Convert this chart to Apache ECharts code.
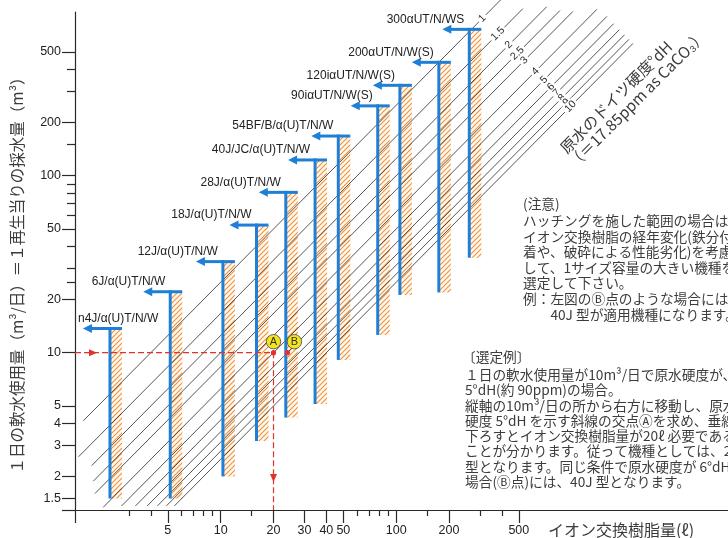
<!DOCTYPE html>
<html><head><meta charset="utf-8">
<script src="https://cdn.jsdelivr.net/npm/echarts@6/dist/echarts.min.js"></script>
<style>html,body{margin:0;padding:0;background:#fff}#c{width:728px;height:538px}</style>
</head><body><div id="c"></div>
<script>
// ---------- data ----------
const models = ['n4J/α(U)T/N/W','6J/α(U)T/N/W','12J/α(U)T/N/W','18J/α(U)T/N/W','28J/α(U)T/N/W',
  '40J/JC/α(U)T/N/W','54BF/B/α(U)T/N/W','90iαUT/N/W(S)','120iαUT/N/W(S)','200αUT/N/W(S)','300αUT/N/WS'];
const resinVolume = [2.34, 5.16, 10.3, 16.0, 23.5, 34.5, 46.8, 78.5, 105, 175, 261];   // ℓ
const flowMin = [1.5, 1.5, 2.0, 3.17, 4.3, 5.13, 9.1, 12.6, 21.2, 21.9, 34.4];          // m3/day
const flowMax = [13.7, 22.1, 32.7, 52.6, 80.5, 122.7, 167.5, 248, 324, 437, 671];       // m3/day

const hardness = [1, 1.5, 2, 2.5, 3, 4, 5, 6, 7, 8, 9, 10];            // °dH
const hardnessLabels = ['1','1.5','2','2.5','3','4','5','6','7','8','9','10'];
const lineStartResin = [1.65, 1.55, 1.84, 1.88, 1.92, 2.14, 2.72, 3.27, 3.81, 4.36, 4.91, 5.45];
const lineEndResin = [399, 527, 721, 857, 1016, 1393, 1588, 1734, 1871, 2000, 2121, 2235];

// selection example: 10 m3/day at 5 °dH needs 20 ℓ (point A); at 6 °dH -> point B
const exampleFlow = 10;
const exampleHardness = [5, 6];
const exampleResin = [20, 24];
const exampleNames = ['A', 'B'];
const flowCoef = exampleFlow * exampleHardness[0] / exampleResin[0];

const xMajorTicks = [5, 10, 20, 30, 40, 50, 100, 200, 500];
const xMinorTicks = [3, 4, 6, 7, 8, 9, 15, 60, 70, 80, 90, 150, 300, 400];
const yMajorTicks = [1.5, 2, 3, 4, 5, 10, 20, 50, 100, 200, 500];
const yMinorTicks = [25, 30, 40, 60, 70, 80, 90, 150, 300, 400];
const xRange = [1.479, 7776];
const yRange = [1.292, 841];

// ---------- styles ----------
const BLUE = '#1f7fd6', RED = '#e2332b', INK = '#2a2a2a', TXT = '#3c3c3c';
const LATIN = '"Liberation Sans", Arial, sans-serif';
const CJK = '"Noto Sans CJK JP", sans-serif';

function makeHatch() {
  const n = 5;
  const c = document.createElement('canvas'); c.width = n; c.height = n;
  const g = c.getContext('2d');
  g.fillStyle = '#fffaf0'; g.fillRect(0, 0, n, n);
  g.strokeStyle = '#f0923f'; g.lineWidth = 1.15;
  g.beginPath();
  g.moveTo(0, n); g.lineTo(n, 0);
  g.moveTo(-1, 1); g.lineTo(1, -1);
  g.moveTo(n - 1, n + 1); g.lineTo(n + 1, n - 1);
  g.stroke();
  return c;
}
const hatch = makeHatch();
const meas = document.createElement('canvas').getContext('2d');
meas.font = '12px ' + LATIN;

const chart = echarts.init(document.getElementById('c'));

function txt(x, y, s, size, extra) {
  return Object.assign({ type: 'text', x: x, y: y, silent: true,
    style: Object.assign({ text: s, fill: TXT, fontSize: size, fontFamily: CJK,
      align: 'left', verticalAlign: 'middle' }, (extra && extra.style) || {}) },
    extra ? { rotation: extra.rotation || 0 } : {});
}

const note1 = ['ハッチングを施した範囲の場合は、','イオン交換樹脂の経年変化(鉄分付','着や、破砕による性能劣化)を考慮',
  'して、1サイズ容量の大きい機種を','選定して下さい。','例：左図のⒷ点のような場合には','　　40J 型が適用機種になります。'];
const note2 = ['１日の軟水使用量が10m³/日で原水硬度が、','5°dH(約 90ppm)の場合。','縦軸の10m³/日の所から右方に移動し、原水',
  '硬度 5°dH を示す斜線の交点Ⓐを求め、垂線を','下ろすとイオン交換樹脂量が20ℓ 必要である','ことが分かります。従って機種としては、28J',
  '型となります。同じ条件で原水硬度が 6°dH の','場合(Ⓑ点)には、40J 型となります。'];

const graphics = [];
graphics.push(txt(17, 271.5, '１日の軟水使用量（m³/日）＝１再生当りの採水量（m³）', 15.5,
  { rotation: Math.PI / 2, style: { align: 'center' } }));
graphics.push(txt(621, 530, 'イオン交換樹脂量(ℓ)', 16, { style: { align: 'center' } }));
graphics.push(txt(616, 97, '原水のドイツ硬度°dH', 15.5, { rotation: Math.PI / 4, style: { align: 'center' } }));
graphics.push(txt(637, 99, '（＝17.85ppm as CaCO₃）', 15.5, { rotation: Math.PI / 4, style: { align: 'center' } }));
graphics.push(txt(523, 203.3, '(注意)', 13.7));
note1.forEach((s, i) => graphics.push(txt(523, 220.7 + i * 15.6, s, 13.7)));
graphics.push(txt(462, 356.7, '〔選定例〕', 13.7));
note2.forEach((s, i) => graphics.push(txt(465, 375 + i * 15.25, s, 13.7)));

const axisLineStyle = { color: INK, width: 1.2 };
const labelStyle = { color: '#222', fontSize: 12.5, fontFamily: LATIN, formatter: v => String(+(+v).toPrecision(6)) };

const option = {
  animation: false,
  backgroundColor: '#fff',
  grid: { left: 75, top: 12, right: 0, bottom: 28, containLabel: false },
  xAxis: [
    { type: 'log', position: 'bottom', min: xRange[0], max: xRange[1],
      axisLine: { show: true, lineStyle: axisLineStyle },
      axisTick: { show: true, length: 13, lineStyle: axisLineStyle, customValues: [xRange[0] * 1.0005].concat(xMajorTicks) },
      axisLabel: Object.assign({ customValues: xMajorTicks, margin: 14 }, labelStyle),
      splitLine: { show: false }, minorTick: { show: false } },
    { type: 'log', position: 'bottom', min: xRange[0], max: xRange[1],
      axisLine: { show: false },
      axisTick: { show: true, length: 6, lineStyle: axisLineStyle, customValues: xMinorTicks },
      axisLabel: { show: false }, splitLine: { show: false } }
  ],
  yAxis: [
    { type: 'log', position: 'left', min: yRange[0], max: yRange[1],
      axisLine: { show: true, lineStyle: axisLineStyle },
      axisTick: { show: true, length: 13, lineStyle: axisLineStyle, customValues: [yRange[0] * 1.0005].concat(yMajorTicks) },
      axisLabel: Object.assign({ customValues: yMajorTicks, margin: 14 }, labelStyle),
      splitLine: { show: false }, minorTick: { show: false } },
    { type: 'log', position: 'left', min: yRange[0], max: yRange[1],
      axisLine: { show: false },
      axisTick: { show: true, length: 8, lineStyle: axisLineStyle, customValues: yMinorTicks },
      axisLabel: { show: false }, splitLine: { show: false } }
  ],
  graphic: graphics,
  series: [
    // hatched ranges
    { type: 'custom', z: 1, clip: false, silent: true,
      data: models.map((m, i) => [resinVolume[i], flowMin[i], flowMax[i], i]),
      renderItem: function (params, api) {
        const t = api.coord([api.value(0), api.value(2)]);
        const b = api.coord([api.value(0), api.value(1)]);
        return { type: 'rect', shape: { x: t[0] + 1, y: t[1], width: 11, height: b[1] - t[1] },
          style: { fill: { image: hatch, repeat: 'repeat' }, stroke: null } };
      } },
    // hardness lines
    { type: 'custom', z: 2, clip: false, silent: true,
      data: hardness.map((h, i) => [lineStartResin[i], lineEndResin[i], h, i]),
      renderItem: function (params, api) {
        const h = api.value(2), i = api.value(3);
        const r0 = api.value(0), r1 = api.value(1);
        const p0 = api.coord([r0, flowCoef * r0 / h]);
        const p1 = api.coord([r1, flowCoef * r1 / h]);
        const d0 = p0[0] - p0[1], d1 = p1[0] - p1[1];
        const t = (464 - d0) / (d1 - d0);
        const lx = p0[0] + t * (p1[0] - p0[0]), ly = p0[1] + t * (p1[1] - p0[1]);
        return { type: 'group', children: [
          { type: 'line', shape: { x1: p0[0], y1: p0[1], x2: p1[0], y2: p1[1] },
            style: { stroke: INK, lineWidth: 0.8 } },
          { type: 'text', x: lx, y: ly, rotation: Math.PI / 4, z2: 5,
            style: { text: hardnessLabels[i], fill: INK, fontSize: 10.5, fontFamily: LATIN,
              align: 'center', verticalAlign: 'middle', backgroundColor: '#fff', padding: [0, 2] } }
        ] };
      } },
    // blue model lines, arrows and names
    { type: 'custom', z: 3, clip: false, silent: true,
      data: models.map((m, i) => [resinVolume[i], flowMin[i], flowMax[i], i]),
      renderItem: function (params, api) {
        const i = api.value(3);
        const t = api.coord([api.value(0), api.value(2)]);
        const b = api.coord([api.value(0), api.value(1)]);
        const x = t[0], y = t[1];
        const w = meas.measureText(models[i]).width;
        let right = x - 5;
        if (right - w < 78) right = 78 + w;
        return { type: 'group', children: [
          { type: 'line', shape: { x1: x, y1: y - 1.5, x2: x, y2: b[1] }, style: { stroke: BLUE, lineWidth: 3 } },
          { type: 'line', shape: { x1: x + 12, y1: y, x2: x - 19, y2: y }, style: { stroke: BLUE, lineWidth: 3 } },
          { type: 'polygon', shape: { points: [[x - 27, y], [x - 18, y - 4.5], [x - 18, y + 4.5]] },
            style: { fill: BLUE } },
          { type: 'text', x: right, y: y - 10,
            style: { text: models[i], fill: '#222', fontSize: 12, fontFamily: LATIN,
              align: 'right', verticalAlign: 'middle' } }
        ] };
      } },
    // selection example
    { type: 'custom', z: 4, clip: false, silent: true,
      data: exampleResin.map((r, i) => [r, exampleFlow, i]),
      renderItem: function (params, api) {
        const i = api.value(2);
        const p = api.coord([api.value(0), api.value(1)]);
        const children = [];
        if (i === 0) {
          const s = api.coord([xRange[0], exampleFlow]);
          const e = api.coord([api.value(0), yRange[0]]);
          children.push({ type: 'polyline', shape: { points: [s, p, e] },
            style: { stroke: RED, lineWidth: 1.2, lineDash: [6, 3], fill: null } });
          const ax = s[0] + 22, ay = s[1];
          children.push({ type: 'polygon', shape: { points: [[ax, ay], [ax - 8, ay - 3.5], [ax - 8, ay + 3.5]] }, style: { fill: RED } });
          const vx = e[0], vy = e[1] - 28;
          children.push({ type: 'polygon', shape: { points: [[vx, vy], [vx - 3.5, vy - 8], [vx + 3.5, vy - 8]] }, style: { fill: RED } });
        }
        children.push({ type: 'circle', shape: { cx: p[0], cy: p[1], r: 2.6 }, style: { fill: RED } });
        const cx = p[0] + (i === 0 ? 0 : 7), cy = p[1] - 11;
        children.push({ type: 'circle', shape: { cx: cx, cy: cy, r: 7.2 }, style: { fill: '#f4e41f', stroke: '#444', lineWidth: 0.8 } });
        children.push({ type: 'text', x: cx, y: cy + 0.5, style: { text: exampleNames[i], fill: '#333', fontSize: 11,
          fontFamily: LATIN, align: 'center', verticalAlign: 'middle' } });
        return { type: 'group', children: children };
      } }
  ]
};
chart.setOption(option);
</script>
</body></html>
